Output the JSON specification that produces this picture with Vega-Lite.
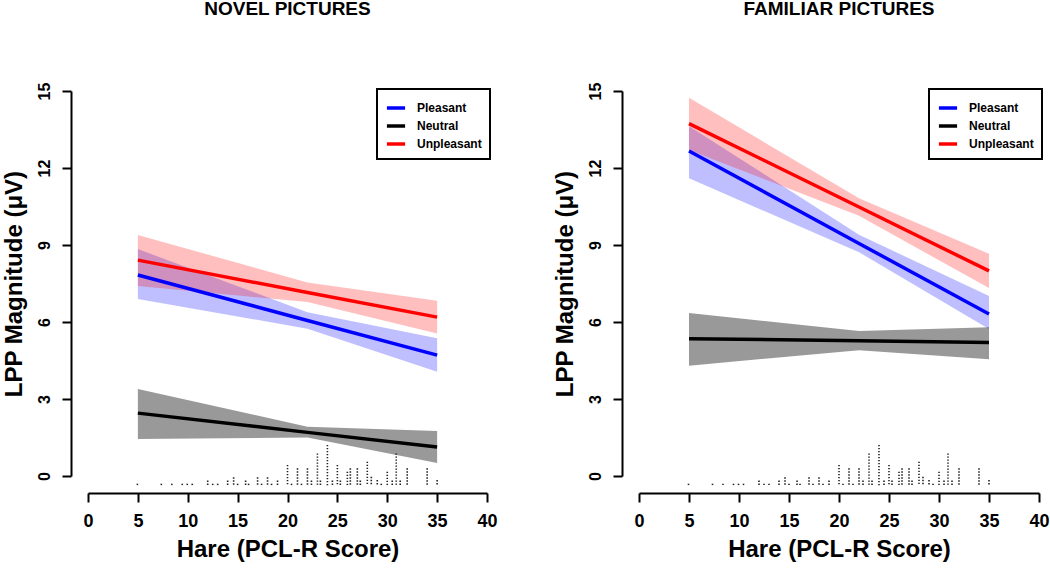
{
  "$schema": "https://vega.github.io/schema/vega-lite/v6.json",
  "autosize": {"type": "pad"},
  "padding": {"left": 2, "top": 0, "right": 5, "bottom": 5},
  "background": "white",
  "config": {
    "view": {"stroke": null},
    "font": "Liberation Sans",
    "axis": {
      "grid": false,
      "domainColor": "black",
      "domainWidth": 2,
      "tickColor": "black",
      "tickWidth": 2,
      "tickSize": 9,
      "labelFont": "Liberation Sans",
      "labelFontSize": 18,
      "labelFontWeight": "bold",
      "labelColor": "black",
      "labelPadding": 10,
      "labelFlush": false,
      "labelOverlap": false,
      "titleFont": "Liberation Sans",
      "titleFontSize": 24,
      "titleFontWeight": "bold",
      "titleColor": "black",
      "offset": 17
    },
    "legend": {
      "strokeColor": "black",
      "strokeWidth": 2,
      "padding": 8,
      "rowPadding": 0,
      "symbolType": "stroke",
      "symbolSize": 330,
      "symbolStrokeWidth": 3.5,
      "labelFont": "Liberation Sans",
      "labelFontSize": 12,
      "labelFontWeight": "bold",
      "labelColor": "black",
      "labelOffset": 10,
      "fillColor": "white"
    },
    "title": {
      "font": "Liberation Sans",
      "fontSize": 19,
      "fontWeight": "bold",
      "color": "black",
      "anchor": "middle",
      "frame": "group",
      "offset": 63
    }
  },
  "datasets": {
    "fits": [
      {"panel": "Novel", "cond": "Pleasant", "x": 5, "y": 7.83, "lo": 6.90, "hi": 8.84},
      {"panel": "Novel", "cond": "Pleasant", "x": 22, "y": 6.06, "lo": 5.74, "hi": 6.38},
      {"panel": "Novel", "cond": "Pleasant", "x": 35, "y": 4.71, "lo": 4.06, "hi": 5.37},
      {"panel": "Novel", "cond": "Neutral", "x": 5, "y": 2.45, "lo": 1.44, "hi": 3.39},
      {"panel": "Novel", "cond": "Neutral", "x": 22, "y": 1.70, "lo": 1.50, "hi": 1.92},
      {"panel": "Novel", "cond": "Neutral", "x": 35, "y": 1.13, "lo": 0.51, "hi": 1.75},
      {"panel": "Novel", "cond": "Unpleasant", "x": 5, "y": 8.41, "lo": 7.40, "hi": 9.39},
      {"panel": "Novel", "cond": "Unpleasant", "x": 22, "y": 7.15, "lo": 6.78, "hi": 7.54},
      {"panel": "Novel", "cond": "Unpleasant", "x": 35, "y": 6.19, "lo": 5.55, "hi": 6.83},
      {"panel": "Familiar", "cond": "Pleasant", "x": 5, "y": 12.66, "lo": 11.60, "hi": 13.63},
      {"panel": "Familiar", "cond": "Pleasant", "x": 22, "y": 9.06, "lo": 8.72, "hi": 9.40},
      {"panel": "Familiar", "cond": "Pleasant", "x": 35, "y": 6.31, "lo": 5.73, "hi": 7.01},
      {"panel": "Familiar", "cond": "Neutral", "x": 5, "y": 5.35, "lo": 4.30, "hi": 6.35},
      {"panel": "Familiar", "cond": "Neutral", "x": 22, "y": 5.27, "lo": 4.90, "hi": 5.65},
      {"panel": "Familiar", "cond": "Neutral", "x": 35, "y": 5.20, "lo": 4.55, "hi": 5.80},
      {"panel": "Familiar", "cond": "Unpleasant", "x": 5, "y": 13.73, "lo": 12.70, "hi": 14.74},
      {"panel": "Familiar", "cond": "Unpleasant", "x": 22, "y": 10.48, "lo": 10.14, "hi": 10.82},
      {"panel": "Familiar", "cond": "Unpleasant", "x": 35, "y": 7.99, "lo": 7.32, "hi": 8.66}
    ],
    "rug": [
      {"score": 4.95, "top": -0.30}, {"score": 7.35, "top": -0.30}, {"score": 8.4, "top": -0.30},
      {"score": 9.45, "top": -0.30}, {"score": 9.95, "top": -0.30}, {"score": 10.45, "top": -0.30},
      {"score": 12.0, "top": -0.18}, {"score": 12.5, "top": -0.30}, {"score": 13.0, "top": -0.30},
      {"score": 14.0, "top": -0.18}, {"score": 14.6, "top": -0.05}, {"score": 15.0, "top": -0.30},
      {"score": 15.8, "top": -0.18}, {"score": 16.1, "top": -0.30}, {"score": 17.0, "top": -0.05},
      {"score": 17.4, "top": -0.30}, {"score": 18.0, "top": -0.05}, {"score": 18.4, "top": -0.30},
      {"score": 19.0, "top": -0.18}, {"score": 20.0, "top": 0.43}, {"score": 20.4, "top": -0.30},
      {"score": 21.0, "top": 0.30}, {"score": 21.4, "top": -0.30}, {"score": 22.0, "top": 0.30},
      {"score": 22.4, "top": -0.18}, {"score": 23.0, "top": 0.88}, {"score": 23.3, "top": -0.18},
      {"score": 24.0, "top": 1.21}, {"score": 24.5, "top": -0.18}, {"score": 25.0, "top": 0.43},
      {"score": 25.3, "top": -0.18}, {"score": 26.0, "top": 0.17}, {"score": 26.3, "top": 0.30},
      {"score": 27.0, "top": 0.30}, {"score": 27.3, "top": -0.18}, {"score": 28.0, "top": 0.56},
      {"score": 28.4, "top": -0.03}, {"score": 29.0, "top": -0.16}, {"score": 29.4, "top": -0.30},
      {"score": 30.0, "top": 0.17}, {"score": 30.5, "top": -0.18}, {"score": 30.9, "top": 0.88},
      {"score": 31.3, "top": -0.18}, {"score": 32.0, "top": 0.30}, {"score": 34.0, "top": 0.30},
      {"score": 35.0, "top": -0.16}
    ]
  },
  "hconcat": [
    {
      "title": "NOVEL PICTURES",
      "width": 399,
      "height": 385,
      "layer": [
        {
          "data": {"name": "fits"},
          "transform": [{"filter": "datum.panel === 'Novel'"}],
          "mark": {"type": "area", "interpolate": "linear", "fillOpacity": 1},
          "encoding": {
            "x": {"field": "x", "type": "quantitative", "scale": {"domain": [0, 40], "nice": false, "zero": false},
                  "axis": {"values": [0, 5, 10, 15, 20, 25, 30, 35, 40], "title": "Hare (PCL-R Score)", "titlePadding": 7}},
            "y": {"field": "lo", "type": "quantitative", "scale": {"domain": [0, 15], "nice": false, "zero": false},
                  "axis": {"values": [0, 3, 6, 9, 12, 15], "title": "LPP Magnitude (μV)", "labelAngle": -90, "labelAlign": "center", "labelBaseline": "bottom", "labelFontSize": 16, "titlePadding": 10}},
            "y2": {"field": "hi"},
            "fill": {"field": "cond", "type": "nominal", "scale": {"domain": ["Neutral", "Pleasant", "Unpleasant"], "range": ["rgba(0,0,0,0.4)", "rgba(0,0,255,0.25)", "rgba(255,0,0,0.25)"]}, "legend": null}
          }
        },
        {
          "data": {"name": "fits"},
          "transform": [{"filter": "datum.panel === 'Novel'"}],
          "mark": {"type": "line", "strokeWidth": 3.5},
          "encoding": {
            "x": {"field": "x", "type": "quantitative"},
            "y": {"field": "y", "type": "quantitative"},
            "stroke": {"field": "cond", "type": "nominal", "scale": {"domain": ["Pleasant", "Neutral", "Unpleasant"], "range": ["#0000FF", "#000000", "#FF0000"]},
                       "legend": {"title": null, "orient": "none", "legendX": 289, "legendY": -2}}
          }
        },
        {
          "data": {"name": "rug"},
          "mark": {"type": "rule", "strokeWidth": 1.6, "strokeDash": [1.4, 1.6], "color": "#222222"},
          "encoding": {
            "x": {"field": "score", "type": "quantitative"},
            "y": {"field": "top", "type": "quantitative"},
            "y2": {"datum": -0.37}
          }
        }
      ]
    },
    {
      "title": "FAMILIAR PICTURES",
      "width": 400,
      "height": 385,
      "layer": [
        {
          "data": {"name": "fits"},
          "transform": [{"filter": "datum.panel === 'Familiar'"}],
          "mark": {"type": "area", "interpolate": "linear", "fillOpacity": 1},
          "encoding": {
            "x": {"field": "x", "type": "quantitative", "scale": {"domain": [0, 40], "nice": false, "zero": false},
                  "axis": {"values": [0, 5, 10, 15, 20, 25, 30, 35, 40], "title": "Hare (PCL-R Score)", "titlePadding": 7}},
            "y": {"field": "lo", "type": "quantitative", "scale": {"domain": [0, 15], "nice": false, "zero": false},
                  "axis": {"values": [0, 3, 6, 9, 12, 15], "title": "LPP Magnitude (μV)", "labelAngle": -90, "labelAlign": "center", "labelBaseline": "bottom", "labelFontSize": 16, "titlePadding": 10}},
            "y2": {"field": "hi"},
            "fill": {"field": "cond", "type": "nominal", "scale": {"domain": ["Neutral", "Pleasant", "Unpleasant"], "range": ["rgba(0,0,0,0.4)", "rgba(0,0,255,0.25)", "rgba(255,0,0,0.25)"]}, "legend": null}
          }
        },
        {
          "data": {"name": "fits"},
          "transform": [{"filter": "datum.panel === 'Familiar'"}],
          "mark": {"type": "line", "strokeWidth": 3.5},
          "encoding": {
            "x": {"field": "x", "type": "quantitative"},
            "y": {"field": "y", "type": "quantitative"},
            "stroke": {"field": "cond", "type": "nominal", "scale": {"domain": ["Pleasant", "Neutral", "Unpleasant"], "range": ["#0000FF", "#000000", "#FF0000"]},
                       "legend": {"title": null, "orient": "none", "legendX": 290, "legendY": -2}}
          }
        },
        {
          "data": {"name": "rug"},
          "mark": {"type": "rule", "strokeWidth": 1.6, "strokeDash": [1.4, 1.6], "color": "#222222"},
          "encoding": {
            "x": {"field": "score", "type": "quantitative"},
            "y": {"field": "top", "type": "quantitative"},
            "y2": {"datum": -0.37}
          }
        }
      ]
    }
  ],
  "resolve": {"scale": {"stroke": "independent", "fill": "independent"}, "legend": {"stroke": "independent"}},
  "spacing": 152,
  "bounds": "flush"
}
